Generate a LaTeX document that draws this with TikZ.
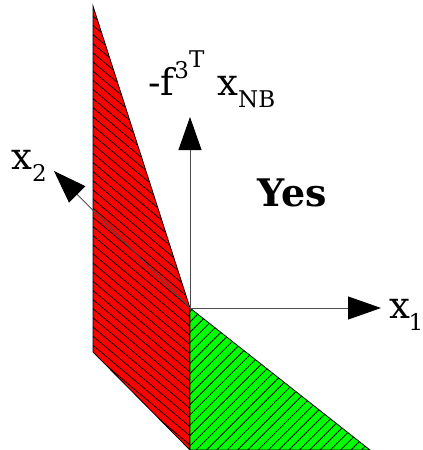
\documentclass[tikz,border=0pt]{standalone}
\usepackage{fontspec}
\setmainfont{DejaVu Serif}
\usetikzlibrary{arrows.meta,patterns.meta}
\tikzset{
  axis/.style={draw=black!70, line width=0.9pt, -{Triangle[length=33pt,width=23pt,color=black,fill=black]}},
  region/.style={draw=black, line width=0.8pt},
  lbl/.style={inner sep=0pt, font=\fontsize{37}{40}\selectfont},
}
\newcommand{\subsz}{\fontsize{23}{25}\selectfont}
\begin{document}
\begin{tikzpicture}[x=1pt,y=-1pt]
\useasboundingbox (0,0) rectangle (423,450);
\coordinate (O) at (190,308);
\coordinate (R1) at (93,6);
\coordinate (R2) at (190,450);
\coordinate (R3) at (93,352);
\coordinate (G1) at (370,450);
\coordinate (X1) at (381,308);
\coordinate (X2) at (54,171);
\coordinate (X3) at (190,117);
% red region
\fill[red] (R1) -- (O) -- (R2) -- (R3) -- cycle;
\path[pattern={Lines[angle=-40,distance=7pt,line width=0.8pt]}] (R1) -- (O) -- (R2) -- (R3) -- cycle;
\draw[region] (R1) -- (O) -- (R2) -- (R3) -- cycle;
% green region
\fill[green] (O) -- (G1) -- (R2) -- cycle;
\path[pattern={Lines[angle=45,distance=7.3pt,line width=0.8pt]}] (O) -- (G1) -- (R2) -- cycle;
\draw[region] (O) -- (G1) -- (R2) -- cycle;
% axes
\draw[axis] (O) -- (X1);
\draw[axis] (O) -- (X2);
\draw[axis] (O) -- (X3);
% labels
\node[lbl, anchor=base west] (l1) at (389,318) {x\kern-0.04em\raisebox{-0.35em}{\subsz 1}};
\node[lbl, anchor=base west] (l2) at (11,169) {x\raisebox{-0.35em}{\subsz 2}};
\node[lbl, anchor=base west] (l3) at (148,95) {-f\raisebox{0.45em}{\subsz 3}\raisebox{0.75em}{\subsz T}\hspace{0.35em}x\raisebox{-0.35em}{\subsz NB}};
\node[lbl, anchor=base west, font=\fontsize{38}{40}\selectfont\bfseries] (yes) at (257,206) {Yes};
\end{tikzpicture}
\end{document}
